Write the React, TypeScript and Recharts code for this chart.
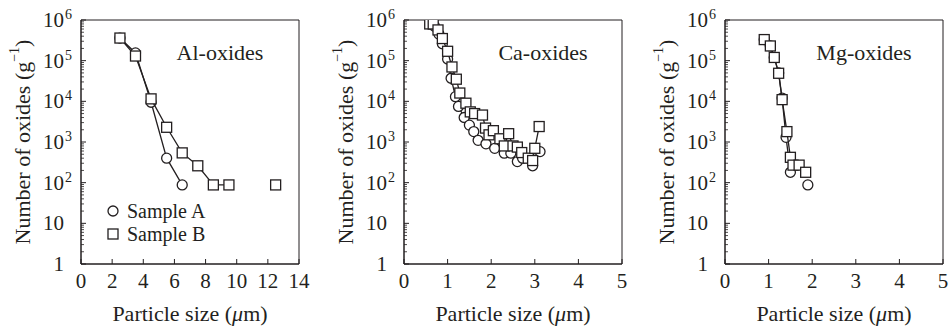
import React from "react";
import {
  ScatterChart,
  Scatter,
  XAxis,
  YAxis,
  ReferenceArea,
} from "recharts";

// ---- data ----
const alSizeA = [2.5, 3.5, 4.5, 5.5, 6.5];
const alCountA = [360000, 155000, 9500, 400, 88];
const alSizeB = [2.5, 3.5, 4.5, 5.5, 6.5, 7.5, 8.5, 9.5];
const alCountB = [360000, 130000, 11500, 2300, 540, 260, 88, 88];
const alSizeBLone = [12.5];
const alCountBLone = [88];

const caSizeA = [0.6, 0.7, 0.8, 0.88, 1.0, 1.08, 1.18, 1.25, 1.38, 1.5, 1.6, 1.7, 1.88, 2.08, 2.3, 2.45, 2.6, 2.72, 2.95, 3.12];
const caCountA = [800000, 700000, 450000, 260000, 110000, 37000, 13000, 7500, 4000, 2600, 1800, 1100, 900, 700, 530, 530, 330, 400, 260, 580];
const caSizeB = [0.59, 0.67, 0.78, 0.88, 1.0, 1.1, 1.2, 1.28, 1.42, 1.52, 1.62, 1.8, 1.87, 1.95, 2.05, 2.2, 2.3, 2.4, 2.5, 2.6, 2.7, 2.85, 2.95, 3.0, 3.1];
const caCountB = [800000, 800000, 570000, 350000, 170000, 70000, 35000, 16000, 9000, 5500, 5000, 4600, 2200, 1500, 1900, 1200, 800, 1600, 800, 750, 550, 400, 350, 700, 2400];

const mgSizeA = [0.9, 1.04, 1.13, 1.23, 1.31, 1.4, 1.5];
const mgCountA = [330000, 230000, 120000, 50000, 12000, 1300, 180];
const mgSizeALone = [1.9];
const mgCountALone = [88];
const mgSizeB = [0.9, 1.04, 1.13, 1.23, 1.31, 1.42, 1.5, 1.56, 1.7, 1.85];
const mgCountB = [330000, 230000, 120000, 49000, 11000, 1800, 420, 270, 270, 180];

const alXTicks = [0, 2, 4, 6, 8, 10, 12, 14];
const smallXTicks = [0, 1, 2, 3, 4, 5];
const yMajorTicks = [1, 10, 100, 1000, 10000, 100000, 1000000];
const yTicks = yMajorTicks.flatMap((d, i) =>
  i === yMajorTicks.length - 1 ? [d] : [1, 2, 3, 4, 5, 6, 7, 8, 9].map((k) => d * k)
);

const toPts = (xs: number[], ys: number[]) => xs.map((x, i) => ({ x, y: ys[i] }));

const INK = "#231f20";
const FONT =
  "Liberation Serif, Times New Roman, Times, Tinos, Nimbus Roman, Noto Serif, DejaVu Serif Condensed, DejaVu Serif";
const txt = { fontFamily: FONT };

function CircleMark(props: any) {
  const { cx, cy } = props;
  if (cx == null || cy == null) return null;
  return <circle cx={cx} cy={cy} r={5} fill="#fff" stroke={INK} strokeWidth={1.3} />;
}

function SquareMark(props: any) {
  const { cx, cy } = props;
  if (cx == null || cy == null) return null;
  return <rect x={cx - 5} y={cy - 5} width={10} height={10} fill="#fff" stroke={INK} strokeWidth={1.3} />;
}

function XTick(props: any) {
  const { x, y, payload } = props;
  return (
    <g>
      <line x1={x} y1={y} x2={x} y2={y - 5} stroke={INK} strokeWidth={1} />
      <text x={x} y={y + 24} textAnchor="middle" fontSize={21} style={txt} fill={INK}>
        {payload.value}
      </text>
    </g>
  );
}

function YTick(props: any) {
  const { x, y, payload } = props;
  const v = payload.value;
  const e = Math.round(Math.log10(v));
  const major = Math.abs(Math.log10(v) - e) < 1e-9;
  if (!major) {
    return <line x1={x} y1={y} x2={x + 3} y2={y} stroke={INK} strokeWidth={0.8} />;
  }
  let label: React.ReactNode;
  if (e <= 1) {
    label = (
      <text x={x - 17} y={y + 7} textAnchor="end" fontSize={21} style={txt} fill={INK}>{e === 0 ? "1" : "10"}</text>
    );
  } else {
    label = (
      <g>
        <text x={x - 17} y={y + 7} textAnchor="end" fontSize={21} style={txt} fill={INK}>10</text>
        <text x={x - 16} y={y - 1} textAnchor="start" fontSize={14} style={txt} fill={INK}>{e}</text>
      </g>
    );
  }
  return (
    <g>
      <line x1={x} y1={y} x2={x + 5} y2={y} stroke={INK} strokeWidth={1} />
      {label}
    </g>
  );
}

function YLabel(props: any) {
  const { viewBox } = props;
  const cx = viewBox.x + 22;
  const cy = viewBox.y + viewBox.height / 2;
  return (
    <text
      transform={`translate(${cx},${cy}) rotate(-90)`}
      textAnchor="middle"
      dominantBaseline="central"
      fontSize={22}
      style={txt}
      fill={INK}
    >
      Number of oxides (g
      <tspan dy={-8} fontSize={14}>−1</tspan>
      <tspan dy={8}>)</tspan>
    </text>
  );
}

function XLabel(props: any) {
  const { viewBox } = props;
  const cx = viewBox.x + viewBox.width / 2;
  return (
    <text x={cx} y={viewBox.y + 57} textAnchor="middle" fontSize={22} style={txt} fill={INK}>
      Particle size (<tspan fontStyle="italic">μ</tspan>m)
    </text>
  );
}

interface SeriesDef {
  data: { x: number; y: number }[];
  kind: "circle" | "square";
  line: boolean;
}

interface PanelProps {
  left: number;
  width: number;
  title: string;
  xMax: number;
  xTicks: number[];
  series: SeriesDef[];
  legend?: boolean;
}

// plot area is always 218px wide, starting 81px from the panel's left edge
function Panel({ left, width, title, xMax, xTicks, series, legend }: PanelProps) {
  return (
    <div style={{ position: "absolute", left, top: 0 }}>
      <ScatterChart
        width={width}
        height={329}
        margin={{ top: 20, right: width - 299, bottom: 0, left: 0 }}
        style={{ overflow: "visible" }}
      >
        <XAxis
          dataKey="x"
          type="number"
          domain={[0, xMax]}
          ticks={xTicks}
          height={65}
          tickSize={0}
          tickMargin={0}
          tick={<XTick />}
          tickLine={false}
          axisLine={{ stroke: INK, strokeWidth: 1 }}
          allowDataOverflow
          label={<XLabel />}
        />
        <YAxis
          dataKey="y"
          type="number"
          scale="log"
          domain={[1, 1000000]}
          ticks={yTicks}
          interval={0}
          width={81}
          tickSize={0}
          tickMargin={0}
          tick={<YTick />}
          tickLine={false}
          axisLine={{ stroke: INK, strokeWidth: 1 }}
          allowDataOverflow
          label={<YLabel />}
        />
        <ReferenceArea x1={0} x2={xMax} y1={1} y2={1000000} fill="none" stroke={INK} strokeWidth={1} ifOverflow="visible" />
        {series.map((s, i) => (
          <Scatter
            key={i}
            data={s.data}
            line={s.line ? { stroke: INK, strokeWidth: 1.3 } : false}
            shape={s.kind === "circle" ? <CircleMark /> : <SquareMark />}
            isAnimationActive={false}
          />
        ))}
        <text x={220} y={60} textAnchor="middle" fontSize={22} style={txt} fill={INK}>
          {title}
        </text>
        {legend && (
          <g>
            <CircleMark cx={113} cy={211} />
            <text x={127} y={218} fontSize={20} style={txt} fill={INK}>Sample A</text>
            <SquareMark cx={113} cy={234} />
            <text x={127} y={241} fontSize={20} style={txt} fill={INK}>Sample B</text>
          </g>
        )}
      </ScatterChart>
    </div>
  );
}

export default function App() {
  return (
    <div style={{ position: "absolute", left: 0, top: 0, width: 951, height: 329, background: "#fff", overflow: "hidden" }}>
      <Panel
        left={0}
        width={322}
        title="Al-oxides"
        xMax={14}
        xTicks={alXTicks}
        legend
        series={[
          { data: toPts(alSizeA, alCountA), kind: "circle", line: true },
          { data: toPts(alSizeB, alCountB), kind: "square", line: true },
          { data: toPts(alSizeBLone, alCountBLone), kind: "square", line: false },
        ]}
      />
      <Panel
        left={323}
        width={320}
        title="Ca-oxides"
        xMax={5}
        xTicks={smallXTicks}
        series={[
          { data: toPts(caSizeA, caCountA), kind: "circle", line: true },
          { data: toPts(caSizeB, caCountB), kind: "square", line: true },
        ]}
      />
      <Panel
        left={644}
        width={307}
        title="Mg-oxides"
        xMax={5}
        xTicks={smallXTicks}
        series={[
          { data: toPts(mgSizeA, mgCountA), kind: "circle", line: true },
          { data: toPts(mgSizeALone, mgCountALone), kind: "circle", line: false },
          { data: toPts(mgSizeB, mgCountB), kind: "square", line: true },
        ]}
      />
    </div>
  );
}
